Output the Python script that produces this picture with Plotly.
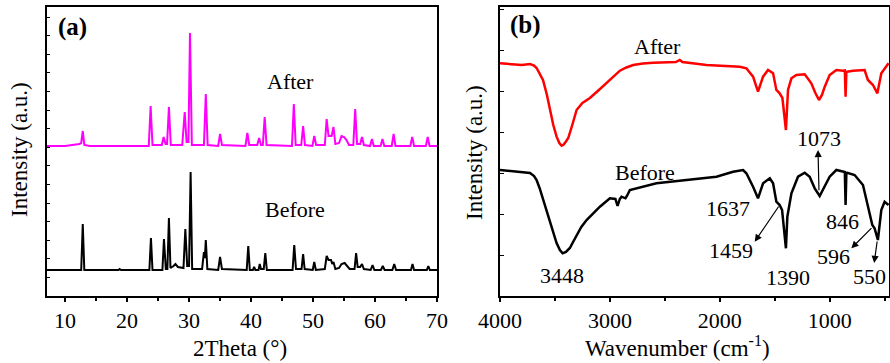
import plotly.graph_objects as go

FONT = "'Liberation Serif', 'Times New Roman', Times, serif"

# ---------------- Panel (a): XRD (2Theta in degrees, intensity in a.u.) ----------------
xrd_before_x = [7, 12.6, 12.85, 13.1, 18.6, 18.8, 19.0, 23.6, 23.85, 24.1, 25.7, 25.95, 26.25, 26.5, 26.75, 27.0,
                27.5, 27.8, 28.2, 29.1, 29.4, 29.7, 30.0, 30.25, 30.5, 32.1, 32.4, 32.55, 32.7, 32.95, 34.7, 35.0,
                35.3, 39.3, 39.55, 39.8, 40.3, 40.5, 40.7, 41.2, 41.4, 41.6, 42.05, 42.3, 42.55, 46.7, 46.97, 47.25,
                48.15, 48.4, 48.65, 49.95, 50.2, 50.45, 51.9, 52.2, 52.5, 52.9, 53.1, 53.3, 53.6, 54.2, 54.6, 55.1,
                55.5, 55.9, 56.7, 56.95, 57.2, 57.6, 57.9, 58.2, 59.3, 59.6, 59.9, 60.95, 61.25, 61.55, 62.8, 63.1,
                63.4, 65.8, 66.05, 66.3, 68.35, 68.6, 68.85, 70]
xrd_before_y = [26, 26, 72, 26, 26, 27, 26, 26, 58, 26, 26, 57, 27, 27, 78, 28,
                30, 32, 29, 28, 67, 30, 30, 124, 27, 27, 44, 38, 56, 27, 26, 39,
                27, 26, 50, 26, 26, 29, 26, 26, 32, 27, 27, 43, 26, 26, 51, 27,
                27, 42, 27, 26, 34, 26, 27, 40, 36, 36, 32, 34, 27, 28, 32, 33,
                30, 27, 27, 43, 29, 29, 32, 27, 26, 31, 26, 26, 30, 26, 26, 32,
                26, 26, 32, 26, 26, 30, 26, 26]

xrd_after_x = [7, 10, 12.3, 12.6, 12.85, 13.1, 14, 23.5, 23.8, 24.1, 25.6, 25.9, 26.2, 26.45, 26.75, 27.05,
               28.9, 29.3, 29.6, 29.9, 30.15, 30.45, 32.4, 32.7, 33.0, 34.7, 35.0, 35.3, 39.1, 39.4, 39.7, 41.0,
               41.3, 41.6, 41.9, 42.2, 42.5, 46.6, 46.9, 47.2, 48.1, 48.4, 48.7, 49.9, 50.2, 50.5, 51.9, 52.2,
               52.5, 53.0, 53.3, 53.6, 54.2, 54.6, 55.0, 55.4, 55.8, 56.5, 56.8, 57.1, 57.6, 57.9, 58.2, 59.2,
               59.5, 59.8, 60.9, 61.2, 61.5, 62.7, 63.0, 63.3, 65.7, 66.0, 66.3, 68.2, 68.5, 68.8, 70]
xrd_after_y = [150, 150, 152, 153, 165, 151, 150, 150, 190, 151, 151, 159, 152, 152, 189, 151,
               151, 184, 154, 154, 263, 151, 151, 202, 151, 150, 162, 151, 150, 163, 151, 151,
               158, 151, 151, 179, 151, 150, 192, 151, 151, 170, 151, 150, 160, 151, 151, 177,
               160, 160, 169, 152, 153, 160, 159, 156, 151, 151, 187, 152, 152, 159, 151, 150,
               157, 150, 150, 157, 150, 150, 162, 150, 150, 159, 150, 150, 159, 150, 150]

# ---------------- Panel (b): FTIR (wavenumber cm-1, intensity a.u.) ----------------
ir_after_x = [4000, 3900, 3800, 3727, 3690, 3667, 3640, 3609, 3575, 3545, 3515, 3485, 3460, 3440, 3420, 3400,
              3379, 3345, 3303, 3250, 3182, 3100, 3030, 2970, 2909, 2850, 2788, 2700, 2606,
              2400, 2364, 2340, 2121, 1818, 1758, 1697, 1652, 1606, 1561, 1515, 1485, 1455, 1430, 1398, 1379,
              1348, 1303, 1227, 1167, 1130, 1097, 1070, 1045, 1000, 939, 879, 862, 855, 848, 840, 788, 682, 652,
              606, 566, 530, 485, 464]
ir_after_y = [232.7, 232, 231, 232, 230.5, 228, 223, 216, 202, 186, 171, 159.3, 153, 150.3, 151.5, 154.5,
              158, 170, 186, 193, 198, 206, 213, 219.5, 225.3, 228.5, 231, 232.5, 233.3,
              234, 236, 234, 231, 229.3, 227.7, 219.3, 204.3, 219.3, 226, 222.7, 206, 202.7, 198, 166, 206,
              217.7, 221, 221.7, 212.7, 203, 196, 201, 209.3, 221, 226, 225.3, 225.5, 199.3, 224, 224.3, 225.3, 226, 216,
              211, 202.7, 222.7, 229.3, 232.7]

ir_before_x = [4000, 3900, 3800, 3727, 3690, 3667, 3640, 3606, 3575, 3545, 3515, 3485, 3455, 3430, 3400, 3364,
               3335, 3303, 3260, 3212, 3150, 3091, 3000, 2950, 2930,
               2910, 2894, 2858, 2845, 2818, 2576, 2273, 2030, 1879, 1788, 1758, 1697, 1652, 1606, 1545, 1515,
               1485, 1455, 1433, 1398, 1385, 1348, 1288, 1227, 1182, 1136, 1091, 1045, 1000, 939, 879, 862,
               855, 848, 840, 773, 697, 652, 612, 591, 561, 530, 500, 464]
ir_before_y = [126, 125, 124, 123, 120, 116, 108, 96, 84, 73, 62, 53, 46, 42.7, 44, 48,
               54, 61, 69, 76, 83, 89.3, 97.7, 97, 90,
               97, 99.3, 97.7, 100, 106, 112.7, 116, 119.3, 124.3, 126, 122.7, 109.3, 97.7, 112.7, 117.7, 112.7,
               94.3, 91, 86, 47.7, 79.3, 102.7, 119.3, 123.3, 119.3, 107.7, 100, 109.3, 119.3, 126, 124.3, 124,
               91, 123, 123.3, 121, 111, 89.3, 71, 67.7, 56, 86, 94.3, 91]

# peak labels (b): text, wavenumber, intensity
ir_labels = ["3448", "1637", "1459", "1390", "1073", "846", "596", "550"]
ir_label_x = [3439, 1927, 1894, 1379, 1097, 885, 961, 636]
ir_label_y = [21, 87.7, 46, 19, 157.7, 74.3, 39.3, 19.3]

# arrows (b): head (x, y) and tail (ax, ay)
arrow_head_x = [1106, 1682, 803, 595]
arrow_head_y = [146, 54.3, 47.7, 33]
arrow_tail_x = [1097, 1455, 606, 566]
arrow_tail_y = [104.3, 91, 69.3, 56]

fig = go.Figure()
fig.add_trace(go.Scatter(x=xrd_before_x, y=xrd_before_y, mode="lines",
                         line=dict(color="black", width=2), xaxis="x", yaxis="y", showlegend=False))
fig.add_trace(go.Scatter(x=xrd_after_x, y=xrd_after_y, mode="lines",
                         line=dict(color="#FF00FF", width=2), xaxis="x", yaxis="y", showlegend=False))
fig.add_trace(go.Scatter(x=ir_after_x, y=ir_after_y, mode="lines",
                         line=dict(color="#FF0000", width=2.5), xaxis="x2", yaxis="y2", showlegend=False))
fig.add_trace(go.Scatter(x=ir_before_x, y=ir_before_y, mode="lines",
                         line=dict(color="black", width=2.5), xaxis="x2", yaxis="y2", showlegend=False))

tickfont = dict(family=FONT, size=22, color="black")
xcommon = dict(showgrid=False, zeroline=False, showline=True, linecolor="black", linewidth=1.5,
               mirror=True, ticks="outside", ticklen=4, tickwidth=1.5, tickcolor="black",
               tickfont=tickfont, automargin=False)
ycommon = dict(showgrid=False, zeroline=False, showline=True, linecolor="black", linewidth=1.5,
               mirror=True, ticks="inside", ticklen=4, tickwidth=1, tickcolor="black",
               showticklabels=False, range=[0, 289], automargin=False)
yright = dict(showgrid=False, zeroline=False, showline=False, ticks="outside", ticklen=4, tickwidth=1,
              tickcolor="black", showticklabels=False, range=[0, 289], side="right", automargin=False)

W, H = 890, 363
L_A, R_A, L_B, R_B = 46.5, 437, 500, 889

fig.update_layout(
    width=W, height=H,
    margin=dict(l=0, r=0, t=7, b=67, autoexpand=False),
    paper_bgcolor="white", plot_bgcolor="white",
    font=dict(family=FONT, color="black"),
    xaxis=dict(**xcommon, domain=[L_A / W, R_A / W], range=[7, 70], tick0=10, dtick=10,
               minor=dict(dtick=5, tick0=5, ticks="outside", ticklen=3, tickcolor="black"), anchor="y"),
    xaxis2=dict(**xcommon, domain=[L_B / W, R_B / W], range=[4000, 460], tick0=0, dtick=1000,
                minor=dict(dtick=500, ticks="outside", ticklen=3, tickcolor="black"), anchor="y2"),
    yaxis=dict(**ycommon, domain=[0, 1], dtick=18.6, tick0=0, anchor="x"),
    yaxis2=dict(**ycommon, domain=[0, 1], dtick=41, tick0=0, anchor="x2"),
    yaxis3=dict(**yright, overlaying="y", anchor="x", dtick=18.6, tick0=0),
    yaxis4=dict(**yright, overlaying="y2", anchor="x2", dtick=41, tick0=0),
)

ann = []
lblfont = dict(family=FONT, size=22, color="black")
# panel labels
ann.append(dict(x=11.2, y=269, xref="x", yref="y", text="<b>(a)</b>", showarrow=False,
                font=dict(family=FONT, size=25, color="black")))
ann.append(dict(x=3764, y=271, xref="x2", yref="y2", text="<b>(b)</b>", showarrow=False,
                font=dict(family=FONT, size=25, color="black")))
# series labels
ann.append(dict(x=46.3, y=214.3, xref="x", yref="y", text="After", showarrow=False, font=lblfont))
ann.append(dict(x=47.1, y=87, xref="x", yref="y", text="Before", showarrow=False, font=lblfont))
ann.append(dict(x=2564, y=249.3, xref="x2", yref="y2", text="After", showarrow=False, font=lblfont))
ann.append(dict(x=2682, y=124, xref="x2", yref="y2", text="Before", showarrow=False, font=lblfont))
for t, xx, yy in zip(ir_labels, ir_label_x, ir_label_y):
    ann.append(dict(x=xx, y=yy, xref="x2", yref="y2", text=t, showarrow=False, font=lblfont))
for hx, hy, tx, ty in zip(arrow_head_x, arrow_head_y, arrow_tail_x, arrow_tail_y):
    ann.append(dict(x=hx, y=hy, xref="x2", yref="y2", ax=tx, ay=ty, axref="x2", ayref="y2",
                    text="", showarrow=True, arrowhead=2, arrowsize=1.2, arrowwidth=1.2,
                    arrowcolor="black"))
# axis titles
titlefont = dict(family=FONT, size=23, color="black")
ann.append(dict(x=19 / W, y=(296 - 150) / 289, xref="paper", yref="paper", text="Intensity (a.u.)",
                textangle=-90, showarrow=False, font=titlefont, xanchor="center", yanchor="middle"))
ann.append(dict(x=474 / W, y=(296 - 153) / 289, xref="paper", yref="paper", text="Intensity (a.u.)",
                textangle=-90, showarrow=False, font=titlefont, xanchor="center", yanchor="middle"))
ann.append(dict(x=240 / W, y=(296 - 348) / 289, xref="paper", yref="paper", text="2Theta (°)",
                showarrow=False, font=titlefont, xanchor="center", yanchor="middle"))
ann.append(dict(x=677 / W, y=(296 - 346) / 289, xref="paper", yref="paper",
                text="Wavenumber (cm<sup>-1</sup>)",
                showarrow=False, font=titlefont, xanchor="center", yanchor="middle"))
fig.update_layout(annotations=ann)

fig.write_html("out.html", config={"displayModeBar": False},
               post_script="document.body.style.margin='0';document.body.style.padding='0';")
